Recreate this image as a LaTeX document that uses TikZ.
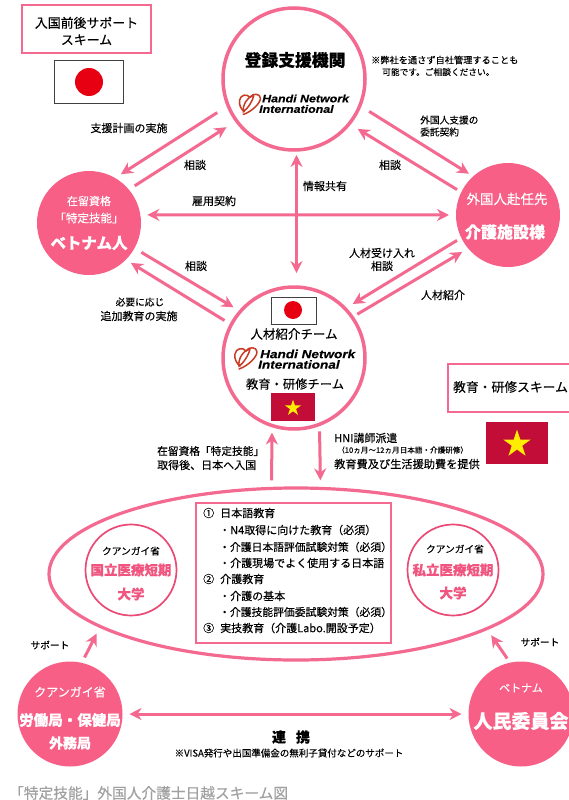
\documentclass[tikz,border=0pt]{standalone}
\usepackage{graphicx}
\usepackage{fontspec}
\setmainfont{Noto Sans CJK JP}[FakeBold=0.2]
\newfontfamily\lgfont{Liberation Sans}[FakeBold=0.3]
\usetikzlibrary{arrows.meta,shapes.geometric}
\definecolor{pk}{HTML}{F4698F}
\definecolor{pkfill}{HTML}{F75F86}
\definecolor{pkdark}{HTML}{EA4A75}
\definecolor{pktext}{HTML}{F0557F}
\definecolor{vnred}{HTML}{C20D38}
\definecolor{jpred}{HTML}{E60012}
\definecolor{lgred}{HTML}{C93A22}
\definecolor{capgray}{HTML}{A0A0A0}
\newcommand{\fs}[1]{\fontsize{#1}{#1}\selectfont}
\tikzset{
  x=1pt,y=-1pt,
  ring/.style={circle,draw=pk,line width=3.5pt,fill=white,inner sep=0pt,outer sep=0pt,minimum size=#1},
  disc/.style={circle,fill=pkfill,inner sep=0pt,outer sep=0pt,minimum size=#1},
  smallring/.style={circle,draw=pkdark,line width=1.7pt,fill=white,inner sep=0pt,outer sep=0pt,minimum size=#1},
  bigoval/.style={ellipse,draw=pk,line width=3.2pt,inner sep=0pt,outer sep=0pt,minimum width=494pt,minimum height=172pt},
  titlebox/.style={draw=pk,line width=2.2pt,fill=white,inner sep=0pt,outer sep=0pt},
  prog/.style={draw=pk,line width=1.7pt,fill=white,inner sep=0pt,outer sep=0pt,minimum width=195pt,minimum height=140pt},
  flow/.style={draw=pk,line width=3pt,-{Stealth[length=12pt,width=12pt]}},
  flowb/.style={draw=pk,line width=3pt,{Stealth[length=12pt,width=12pt]}-{Stealth[length=12pt,width=12pt]}},
  lab/.style={font=\fs{11},text=black,inner sep=0pt},
  tiny/.style={font=\fs{9.7},text=black,inner sep=0pt},
  wlab/.style={font=\fs{#1},text=white,inner sep=0pt},
  wbold/.style={font=\fs{#1}\bfseries,text=white,inner sep=0pt},
  plab/.style={font=\fs{13.5}\bfseries,text=pktext,inner sep=0pt},
  head/.style={font=\fs{#1},text=black,inner sep=0pt},
  jpflag/.style={draw=black!75,line width=.7pt,fill=white,inner sep=0pt,outer sep=0pt},
  vnflag/.style={fill=vnred,inner sep=0pt,outer sep=0pt},
  sun/.style={circle,fill=jpred,inner sep=0pt,minimum size=#1},
  vstar/.style={star,star points=5,star point ratio=2.618,fill=yellow!95!orange,inner sep=0pt,minimum size=#1},
  lgt/.style={inner sep=0pt,text=black,font=\lgfont\bfseries\itshape\fs{#1}},
  hni/.pic={
    \draw[lgred,line width=1.5pt,line cap=round,line join=round]
      (-7,11) .. controls (2,8) and (11,-1) .. (11,-6)
              .. controls (11,-11) and (3,-12) .. (0,-7)
              .. controls (-3,-11) and (-10,-10) .. (-11,-4)
              .. controls (-12,1) and (-9,6) .. (-6,8);
    \draw[lgred,line width=1.5pt]
      (4,-9) .. controls (-4,-7) and (-8,2) .. (-7,8)
             .. controls (-2,5) and (3,-4) .. (4,-9);
  }
}
\begin{document}
\begin{tikzpicture}
\useasboundingbox[fill=white] (0,0) rectangle (568,800);

% large shapes
\node[bigoval] (E) at (296,574) {};
\node[ring=142pt] (T) at (294,79) {};
\node[ring=142pt] (C) at (294,358) {};
\node[disc=104pt] (V) at (89,223) {};
\node[disc=104pt] (R) at (508,215) {};
\node[disc=105pt] (B1) at (70,714) {};
\node[disc=105pt] (B2) at (521,714) {};
\node[smallring=91pt] (S1) at (131,570) {};
\node[smallring=91pt] (S2) at (453,570) {};
\node[prog] (P) at (293.5,573) {};

% connectors
\draw[flow,shorten <=13pt,shorten >=7pt] (T.202) -- (V.60);
\draw[flow,shorten <=7pt,shorten >=12pt] (V.40) -- (T.216);
\draw[flowb,shorten <=7pt,shorten >=7pt] (V.9) -- (R.180);
\draw[flowb,shorten <=5pt,shorten >=14pt] (T.272) -- (C.88);
\draw[flow,shorten <=11pt,shorten >=5pt] (T.-22) -- (R.132);
\draw[flow,shorten <=5pt,shorten >=10pt] (R.154) -- (T.-39);
\draw[flow,shorten <=5pt,shorten >=9pt] (R.206) -- (C.44.5);
\draw[flow,shorten <=6pt,shorten >=7pt] (C.35) -- (R.220);
\draw[flow,shorten <=8pt,shorten >=8pt] (V.-29) -- (C.139.5);
\draw[flow,shorten <=8pt,shorten >=6pt] (C.152) -- (V.-45);
\draw[flow,shorten <=8pt,shorten >=7pt] (E.106) -- (C.-108.7);
\draw[flow,shorten <=7pt,shorten >=8pt] (C.-69) -- (E.74.3);
\draw[flow,shorten <=6pt,shorten >=8pt] (B1.77) -- (E.195);
\draw[flow,shorten <=5pt,shorten >=8pt] (B2.102) -- (E.-16);
\draw[flowb,shorten <=7pt,shorten >=7pt] (B1.0) -- (B2.180);

% title boxes and flags
\node[titlebox,minimum width=129pt,minimum height=48pt] (box1) at (86.5,29) {};
\node[align=center,inner sep=0pt,font=\fs{12.9}] (box1t) at (86.5,31) {入国前後サポート\\[4pt]スキーム};
\node[jpflag,minimum width=69pt,minimum height=43pt] (f1) at (88.5,81.5) {};
\node[sun=28pt] (f1s) at (89,82) {};
\node[titlebox,minimum width=140pt,minimum height=48pt] (box2) at (518,388) {};
\node[head=12.8] (box2t) at (510.5,387) {教育・研修スキーム};
\node[vnflag,minimum width=62pt,minimum height=42pt] (f2) at (517,443) {};
\node[vstar=29pt] (f2s) at (517,444) {};

% registered support body
\node[font=\fs{16.8}\bfseries,inner sep=0pt] (t1) at (295,60) {登録支援機関};
\pic[scale=.95] at (250,104) {hni};
\node[lgt=10.6,anchor=west] (t2) at (262,98.5) {\scalebox{1.17}[1]{Handi Network}};
\node[lgt=10.6,anchor=west] (t3) at (259,109) {\scalebox{1.17}[1]{International}};
\node[inner sep=0pt,font=\fs{9.2},anchor=west] (n1) at (371,60) {※弊社を通さず自社管理することも};
\node[inner sep=0pt,font=\fs{8.7},anchor=west] (n2) at (382,72) {可能です。ご相談ください。};

% center body
\node[jpflag,minimum width=45pt,minimum height=27pt] (f3) at (293.5,310.5) {};
\node[sun=18pt] (f3s) at (293,310) {};
\node[head=12.5] (c1) at (294,334) {人材紹介チーム};
\pic at (246,358) {hni};
\node[lgt=11.6,anchor=west] (c2) at (260,354) {\scalebox{1.17}[1]{Handi Network}};
\node[lgt=11.6,anchor=west] (c3) at (258,364.5) {\scalebox{1.17}[1]{International}};
\node[head=12.3] (c4) at (295,384) {教育・研修チーム};
\node[vnflag,minimum width=44pt,minimum height=28pt] (f4) at (293,407) {};
\node[vstar=17pt] (f4s) at (293,408) {};

% left / right disc texts
\node[wlab=11] (v1) at (89,201) {在留資格};
\node[wlab=11.5] (v2) at (89,218) {「特定技能」};
\node[wbold=15.5] (v3) at (89,243) {ベトナム人};
\node[wlab=13.5] (r1) at (507,199) {外国人赴任先};
\node[wbold=16] (r2) at (505,232) {介護施設様};

% arrow labels
\node[lab] (l1) at (129,128) {支援計画の実施};
\node[lab] (l2) at (195,165) {相談};
\node[lab] (l3) at (214,201) {雇用契約};
\node[lab] (l4) at (325,186) {情報共有};
\node[tiny,anchor=west] (l5) at (420,120) {外国人支援の};
\node[tiny,anchor=west] (l6) at (420,132) {委託契約};
\node[lab] (l7) at (390,165) {相談};
\node[lab] (l8) at (382,253) {人材受け入れ};
\node[lab] (l9) at (382,266) {相談};
\node[lab] (l10) at (443,295) {人材紹介};
\node[lab] (l11) at (196,266) {相談};
\node[tiny] (l12) at (140,302) {必要に応じ};
\node[lab] (l13) at (139,316) {追加教育の実施};
\node[lab,anchor=west,font=\fs{10.7}] (l14) at (157,451) {在留資格「特定技能」};
\node[lab,anchor=west] (l15) at (157,465) {取得後、日本へ入国};
\node[lab,anchor=west] (l16) at (334,438) {HNI講師派遣};
\node[inner sep=0pt,anchor=west,font=\fs{7.6}] (l17) at (337,450) {（10ヵ月～12ヵ月日本語・介護研修）};
\node[lab,anchor=west,font=\fs{11.2}] (l18) at (334,464) {教育費及び生活援助費を提供};

% programme list
\node[lab,anchor=west] (p1) at (203,513) {①\hspace{6pt}日本語教育};
\node[lab,anchor=west] (p2) at (219,530) {・N4取得に向けた教育（必須）};
\node[lab,anchor=west,font=\fs{10.8}] (p3) at (219,547) {・介護日本語評価試験対策（必須）};
\node[lab,anchor=west] (p4) at (219,563) {・介護現場でよく使用する日本語};
\node[lab,anchor=west] (p5) at (203,579) {②\hspace{6pt}介護教育};
\node[lab,anchor=west] (p6) at (219,596) {・介護の基本};
\node[lab,anchor=west,font=\fs{10.8}] (p7) at (219,612) {・介護技能評価委試験対策（必須）};
\node[lab,anchor=west] (p8) at (203,628) {③\hspace{6pt}実技教育（介護Labo.開設予定）};

% colleges
\node[tiny] (s11) at (131,551) {クアンガイ省};
\node[plab] (s12) at (131,570) {国立医療短期};
\node[plab] (s13) at (131,594) {大学};
\node[tiny] (s21) at (455,549) {クアンガイ省};
\node[plab] (s22) at (453,570) {私立医療短期};
\node[plab] (s23) at (453,593) {大学};

% bottom
\node[tiny] (b1) at (50,645) {サポート};
\node[tiny] (b2) at (540,642) {サポート};
\node[wlab=12] (b3) at (70,692) {クアンガイ省};
\node[wbold=14.5] (b4) at (70,720) {労働局・保健局};
\node[wbold=14] (b5) at (70,743) {外務局};
\node[wlab=11] (b6) at (521,688) {ベトナム};
\node[wbold=19] (b7) at (521,721) {人民委員会};
\node[font=\fs{14}\bfseries,inner sep=0pt] (b8) at (291,737) {連\hspace{10pt}携};
\node[inner sep=0pt,font=\fs{9.5}] (b9) at (289,753) {※VISA発行や出国準備金の無利子貸付などのサポート};
\node[anchor=west,inner sep=0pt,text=capgray,font=\fs{14.7}] (cap) at (9,793) {「特定技能」外国人介護士日越スキーム図};
\end{tikzpicture}
\end{document}
